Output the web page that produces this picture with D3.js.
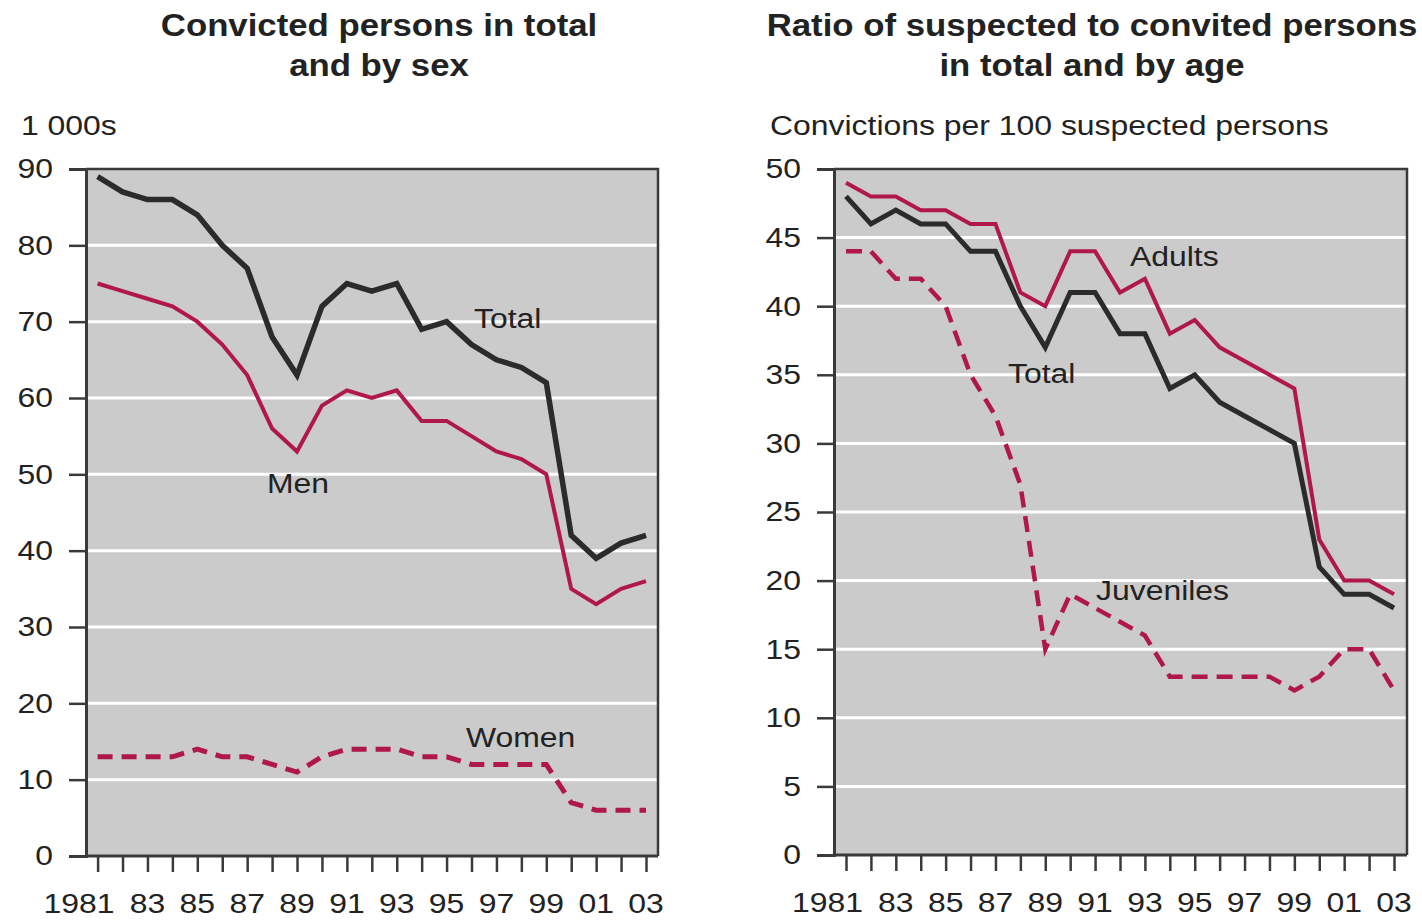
<!DOCTYPE html>
<html><head><meta charset="utf-8">
<script src="https://cdn.jsdelivr.net/npm/d3@7"></script>
<style>body{margin:0;background:#fff}svg{display:block}text{font-family:"Liberation Sans",Arial,sans-serif;fill:#222}</style>
</head><body>
<svg id="c" width="1422" height="924"></svg>
<script>
const years = d3.range(1981, 2004);
const xTickLabels = ["1981","83","85","87","89","91","93","95","97","99","01","03"];
// Left chart: convicted persons (1 000s)
const convTotal = [89,87,86,86,84,80,77,68,63,72,75,74,75,69,70,67,65,64,62,42,39,41,42];
const convMen   = [75,74,73,72,70,67,63,56,53,59,61,60,61,57,57,55,53,52,50,35,33,35,36];
const convWomen = [13,13,13,13,14,13,13,12,11,13,14,14,14,13,13,12,12,12,12,7,6,6,6];
const leftTicks = [0,10,20,30,40,50,60,70,80,90];
// Right chart: convictions per 100 suspected persons
const ratioAdults = [49,48,48,47,47,46,46,41,40,44,44,41,42,38,39,37,36,35,34,23,20,20,19];
const ratioTotal  = [48,46,47,46,46,44,44,40,37,41,41,38,38,34,35,33,32,31,30,21,19,19,18];
const ratioJuv    = [44,44,42,42,40,35,32,27,15,19,18,17,16,13,13,13,13,13,12,13,15,15,12];
const rightTicks = [0,5,10,15,20,25,30,35,40,45,50];

const SX = 1.14;
const RED = "#b0174b", DARK = "#2b2b2b", FRAME = "#3a3a3a";
const svg = d3.select("#c");

function stext(x, y, str, opts = {}) {
  return svg.append("text")
    .attr("transform", `translate(${x},${y}) scale(${SX},1)`)
    .attr("text-anchor", opts.anchor || "start")
    .style("font-size", (opts.size || 28) + "px")
    .style("font-weight", opts.bold ? "bold" : "normal")
    .text(str);
}

function panel(cfg) {
  const x = d3.scaleLinear().domain([1981, 2003]).range([cfg.x0, cfg.x1]);
  const y = d3.scaleLinear().domain([0, cfg.max]).range([cfg.bottom, cfg.top]);
  const g = svg.append("g");
  g.append("rect").attr("x", cfg.left).attr("y", cfg.top).attr("width", cfg.right - cfg.left)
    .attr("height", cfg.bottom - cfg.top).attr("fill", "#cbcbcb");
  g.selectAll("line.grid").data(cfg.ticks.filter(t => t > 0 && t < cfg.max)).join("line")
    .attr("x1", cfg.left).attr("x2", cfg.right).attr("y1", d => y(d)).attr("y2", d => y(d))
    .attr("stroke", "#fff").attr("stroke-width", 3);
  g.append("path").attr("d", `M${cfg.left},${cfg.top}H${cfg.right}V${cfg.bottom}`)
    .attr("fill", "none").attr("stroke", FRAME).attr("stroke-width", 2.5);

  const line = d3.line().x((d, i) => x(years[i])).y(d => y(d));
  cfg.series.forEach(s => {
    g.append("path").attr("d", line(s.values)).attr("fill", "none")
      .attr("stroke", s.color).attr("stroke-width", s.width)
      .attr("stroke-dasharray", s.dash || null)
      .attr("stroke-linejoin", "miter").attr("stroke-linecap", "butt");
  });

  const ya = g.append("g").attr("transform", `translate(${cfg.left},0)`)
    .call(d3.axisLeft(y).tickValues(cfg.ticks).tickSize(17).tickPadding(12).tickFormat(d3.format("d")));
  ya.select(".domain").attr("stroke", FRAME).attr("stroke-width", 3);
  ya.selectAll(".tick line").attr("stroke", FRAME).attr("stroke-width", 2.5);
  ya.selectAll(".tick text").style("font-size", "28px").style("font-family", "Liberation Sans, Arial, sans-serif")
    .attr("fill", "#222").attr("transform", `scale(${SX},1)`);

  const xa = g.append("g").attr("transform", `translate(0,${cfg.bottom})`)
    .call(d3.axisBottom(x).tickValues(years).tickSize(16).tickPadding(20).tickFormat(""));
  xa.select(".domain").attr("d", `M${cfg.left},0H${cfg.right}`).attr("stroke", FRAME).attr("stroke-width", 3);
  xa.selectAll(".tick line").attr("stroke", FRAME).attr("stroke-width", 2.5);
  xTickLabels.forEach((lab, i) => {
    const yr = 1981 + 2 * i;
    if (i === 0) stext(x(yr) + 17, cfg.bottom + 57, lab, { anchor: "end" });
    else stext(x(yr), cfg.bottom + 57, lab, { anchor: "middle" });
  });
  return { x, y };
}

panel({
  left: 86, right: 658, top: 169, bottom: 856, x0: 97.6, x1: 646, max: 90, ticks: leftTicks,
  series: [
    { values: convWomen, color: RED, width: 5, dash: "15 9" },
    { values: convMen, color: RED, width: 4 },
    { values: convTotal, color: DARK, width: 5.5 }
  ]
});
panel({
  left: 834, right: 1407, top: 169, bottom: 855, x0: 846, x1: 1394, max: 50, ticks: rightTicks,
  series: [
    { values: ratioJuv, color: RED, width: 4.5, dash: "16 9" },
    { values: ratioAdults, color: RED, width: 4 },
    { values: ratioTotal, color: DARK, width: 5 }
  ]
});

// Titles
stext(379, 36, "Convicted persons in total", { anchor: "middle", size: 30.5, bold: true });
stext(379, 76, "and by sex", { anchor: "middle", size: 30.5, bold: true });
stext(1092, 36, "Ratio of suspected to convited persons", { anchor: "middle", size: 30.5, bold: true });
stext(1092, 76, "in total and by age", { anchor: "middle", size: 30.5, bold: true });
// Units
stext(21, 135, "1 000s");
stext(770, 135, "Convictions per 100 suspected persons");
// Series labels
stext(474, 328, "Total");
stext(267, 493, "Men");
stext(466, 747, "Women");
stext(1130, 266, "Adults");
stext(1008, 383, "Total");
stext(1096, 600, "Juveniles");
</script>
</body></html>
